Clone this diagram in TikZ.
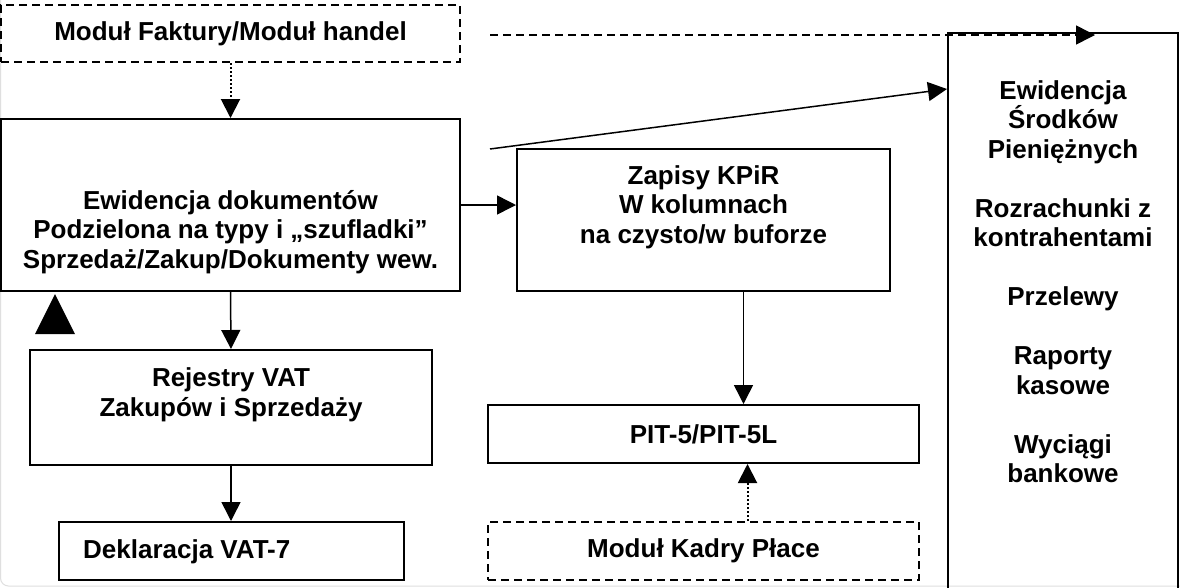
\documentclass[tikz,border=0pt]{standalone}
\usepackage{fontspec}
\setmainfont{Liberation Sans}
\usepackage{tikz}
\usetikzlibrary{positioning,arrows.meta}

\begin{document}
\begin{tikzpicture}[
    x=1pt, y=-1pt,
    box/.style={rectangle, draw, line width=2pt, inner sep=0pt},
    dashbox/.style={box, dash pattern=on 8pt off 5pt},
    txt/.style={font=\fontsize{26}{29.5}\selectfont\bfseries, align=center, inner sep=0pt},
    arrow/.style={-{Triangle[length=19pt,width=19pt]}, line width=1.5pt},
    dotarrow/.style={arrow, line width=2pt, dash pattern=on 2pt off 2pt}
]
\useasboundingbox (0,0) rectangle (1180,587);
\fill[white] (0,0) rectangle (1180,587);
\draw[gray!25, line width=1pt, rounded corners=8pt] (0.5,-10) -- (0.5,586) -- (1190,586);

% Modules
\node[dashbox, txt, minimum width=459pt, minimum height=57pt] (fak) at (230.5,33.5) {Moduł Faktury/Moduł handel};
\node[dashbox, txt, minimum width=431pt, minimum height=58pt] (kadry) at (703.5,551) {Moduł Kadry Płace};

% Left column
\node[box, minimum width=459pt, minimum height=172pt] (ewid) at (230.5,205) {};
\node[txt] (ewidtxt) at (230.5,232) {Ewidencja dokumentów\\Podzielona na typy i „szufladki”\\Sprzedaż/Zakup/Dokumenty wew.};
\node[box, minimum width=402pt, minimum height=115pt] (vat) at (231,407.5) {};
\node[txt] (vattxt) at (231,395) {Rejestry VAT\\Zakupów i Sprzedaży};
\node[box, minimum width=345pt, minimum height=58pt] (dekl) at (231.5,551) {};
\node[txt, anchor=west] (dekltxt) at (83,552) {Deklaracja VAT-7};

% Middle column
\node[box, minimum width=373pt, minimum height=142pt] (kpir) at (703.5,220) {};
\node[txt] (kpirtxt) at (703.5,207) {Zapisy KPiR\\W kolumnach\\na czysto/w buforze};
\node[box, txt, minimum width=431pt, minimum height=58pt] (pit) at (703.5,434) {PIT-5/PIT-5L};

% Right column
\node[box, minimum width=230pt, minimum height=560pt] (ewsp) at (1063,313) {};
\node[txt] (ewsptxt) at (1063,281.5) {Ewidencja\\Środków\\Pieniężnych\\[29.5pt]Rozrachunki z\\kontrahentami\\[29.5pt]Przelewy\\[29.5pt]Raporty\\kasowe\\[29.5pt]Wyciągi\\bankowe};

% Arrows
\coordinate (dashstart) at (490,35);
\coordinate (dashend) at (1095,35);
\coordinate (slantstart) at (490,149);
\draw[arrow, dash pattern=on 8pt off 5pt] (dashstart) -- (dashend);
\draw[arrow] (slantstart) -- ([yshift=-57pt]ewsp.north west);
\draw[dotarrow] (fak.south) -- (ewid.north);
\draw[arrow] (ewid.east) -- (kpir.west |- ewid.east);
\draw[arrow] (ewid.south) -- (vat.north);
\draw[arrow] (vat.south) -- (vat.south |- dekl.north);
\draw[arrow] ([xshift=40pt]kpir.south) -- ([xshift=40pt]kpir.south |- pit.north);
\draw[dotarrow] ([xshift=44pt]kadry.north) -- ([xshift=44pt]kadry.north |- pit.south);

% Marker
\fill (55,294) -- (75,334) -- (35,334) -- cycle;

\end{tikzpicture}
\end{document}
